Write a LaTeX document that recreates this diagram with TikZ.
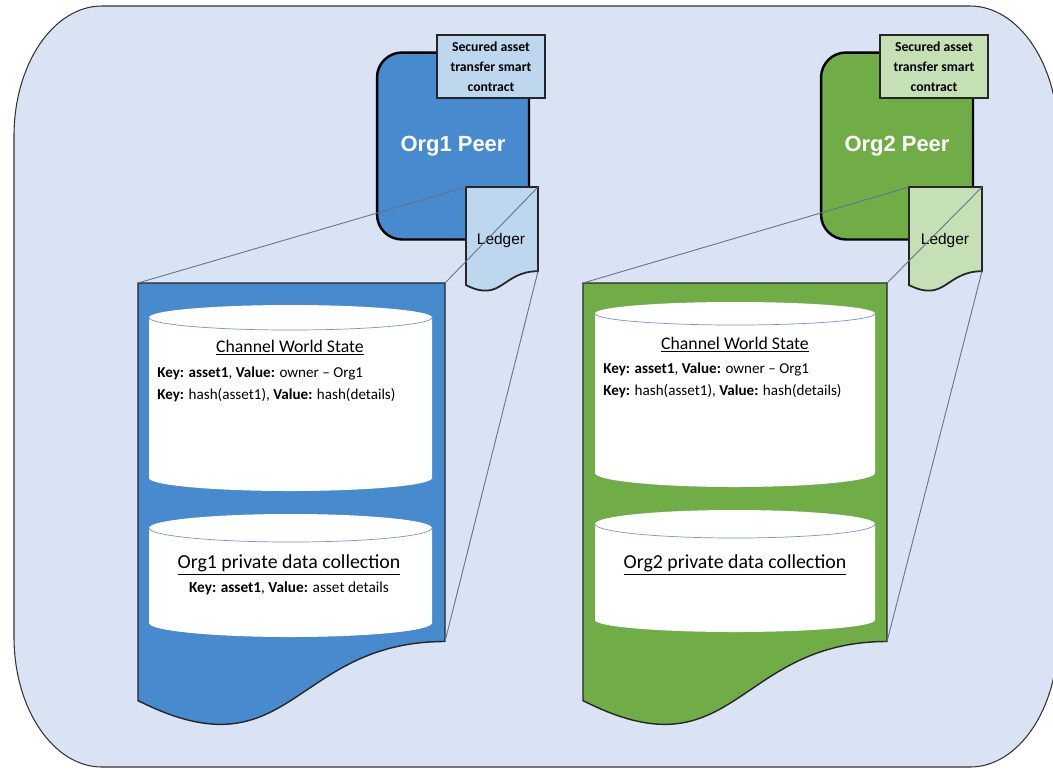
\documentclass[tikz,border=0pt]{standalone}
\usepackage{fontspec}
\setmainfont{Carlito}
\newfontfamily\arialfont{Liberation Sans}
\definecolor{bgblue}{RGB}{218,227,243}
\definecolor{orgblue}{RGB}{72,138,206}
\definecolor{paleblue}{RGB}{189,215,238}
\definecolor{orggreen}{RGB}{112,173,71}
\definecolor{palegreen}{RGB}{197,224,180}
\definecolor{zoomgray}{RGB}{100,112,140}
\definecolor{rimblue}{RGB}{120,150,200}

\begin{document}
\begin{tikzpicture}[x=0.02cm,y=0.02cm]
    %
    % `peer' is the rounded box of each organisation.
    % `contract' is the smart contract label on top of it.
    % `doc' is used for the ledger and its zoomed copy.
    % `drum' and `rim' give the database cylinders.
    \tikzstyle{peer} = [draw=black,line width=1.4pt,rounded corners=0.5cm,minimum width=3.04cm,minimum height=3.74cm,text=white,font=\arialfont\bfseries\fontsize{12.5}{15}\selectfont]
    \tikzstyle{contract} = [draw=black!85,line width=0.8pt,minimum width=2.16cm,minimum height=1.26cm,inner sep=0pt,align=center,font=\bfseries\fontsize{7.8}{11.3}\selectfont]
    \tikzstyle{doc} = [draw=black!85,line width=0.8pt]
    \tikzstyle{ledgertext} = [font=\arialfont\fontsize{8.8}{10}\selectfont]
    \tikzstyle{drum} = [fill=white]
    \tikzstyle{rim} = [draw=rimblue,line width=0.4pt]
    \tikzstyle{cwstitle} = [anchor=base,inner sep=0pt,font=\fontsize{10.1}{12}\selectfont]
    \tikzstyle{pdctitle} = [anchor=base,inner sep=0pt,font=\fontsize{11.3}{13}\selectfont]
    \tikzstyle{kv} = [anchor=base west,inner sep=0pt,font=\fontsize{8.6}{10}\selectfont]
    \tikzstyle{zoom} = [draw=zoomgray,line width=0.5pt]
    %
    \useasboundingbox (0,0) rectangle (1053,-768);
    %
    % Background
    \draw[fill=bgblue,draw=black!80,line width=0.6pt] (102,-6) -- (970,-6)
        arc[start angle=90,end angle=0,x radius=88,y radius=130] -- (1058,-637)
        arc[start angle=0,end angle=-90,x radius=88,y radius=130] -- (102,-767)
        arc[start angle=270,end angle=180,x radius=88,y radius=130] -- (14,-136)
        arc[start angle=180,end angle=90,x radius=88,y radius=130] -- cycle;
    %
    % Org1 ledger, zoomed
    \draw[doc,fill=orgblue] (138,-283) coordinate (d1nw) -- (445,-283) coordinate (d1ne)
        -- (445,-641.5) coordinate (d1se) .. controls (291.5,-641.5) and (291.5,-778) .. (138,-700.6) -- cycle;
    \fill[drum] (149,-317.5) -- (149,-478) arc[start angle=180,end angle=360,x radius=141.5,y radius=13]
        -- (432,-317.5) arc[start angle=0,end angle=180,x radius=141.5,y radius=12.5] -- cycle;
    \draw[rim] (149,-317.5) arc[start angle=180,end angle=360,x radius=141.5,y radius=12.5];
    \fill[drum] (149,-528) -- (149,-623) arc[start angle=180,end angle=360,x radius=141.5,y radius=14]
        -- (432,-528) arc[start angle=0,end angle=180,x radius=141.5,y radius=14] -- cycle;
    \draw[rim] (149,-528) arc[start angle=180,end angle=360,x radius=141.5,y radius=14];
    \node[cwstitle] (cws1) at (290,-352) {\underline{Channel World State}};
    \node[kv] (kv1a) at (157,-377) {\textbf{Key: asset1}, \textbf{Value:} owner – Org1};
    \node[kv] (kv1b) at (157,-399) {\textbf{Key:} hash(asset1), \textbf{Value:} hash(details)};
    \node[pdctitle] (pdc1) at (289,-568) {\underline{Org1 private data collection}};
    \node[cwstitle,font=\fontsize{8.7}{10}\selectfont] (kv1c) at (289,-592) {\textbf{Key: asset1}, \textbf{Value:} asset details};
    %
    % Org1 peer
    \node[peer,fill=orgblue] (peer1) at (453,-146) {Org1 Peer};
    \node[contract,fill=paleblue] (sc1) at (491,-66.5) {Secured asset\\transfer smart\\contract};
    \draw[doc,fill=paleblue,line width=1pt] (466,-187) coordinate (l1nw) -- (538,-187) coordinate (l1ne)
        -- (538,-271.2) coordinate (l1se) .. controls (502,-271.2) and (502,-303.3) .. (466,-285.1) -- cycle;
    \node[ledgertext] (ledger1) at (501,-240) {Ledger};
    \draw[zoom] (l1nw) -- (d1nw) (l1ne) -- (d1ne) (l1se) -- (d1se);
    %
    % Org2 ledger, zoomed
    \draw[doc,fill=orggreen] (583,-283) coordinate (d2nw) -- (887,-283) coordinate (d2ne)
        -- (887,-641.5) coordinate (d2se) .. controls (735,-641.5) and (735,-778) .. (583,-700.6) -- cycle;
    \fill[drum] (595,-313.5) -- (595,-473) arc[start angle=180,end angle=360,x radius=140,y radius=14]
        -- (875,-313.5) arc[start angle=0,end angle=180,x radius=140,y radius=11.5] -- cycle;
    \draw[rim] (595,-313.5) arc[start angle=180,end angle=360,x radius=140,y radius=11.5];
    \fill[drum] (595,-524) -- (595,-620) arc[start angle=180,end angle=360,x radius=140,y radius=12]
        -- (875,-524) arc[start angle=0,end angle=180,x radius=140,y radius=14] -- cycle;
    \draw[rim] (595,-524) arc[start angle=180,end angle=360,x radius=140,y radius=14];
    \node[cwstitle] (cws2) at (735,-349) {\underline{Channel World State}};
    \node[kv] (kv2a) at (603,-373) {\textbf{Key: asset1}, \textbf{Value:} owner – Org1};
    \node[kv] (kv2b) at (603,-395) {\textbf{Key:} hash(asset1), \textbf{Value:} hash(details)};
    \node[pdctitle] (pdc2) at (735,-568) {\underline{Org2 private data collection}};
    %
    % Org2 peer
    \node[peer,fill=orggreen] (peer2) at (897,-146) {Org2 Peer};
    \node[contract,fill=palegreen] (sc2) at (934,-66.5) {Secured asset\\transfer smart\\contract};
    \draw[doc,fill=palegreen,line width=1pt] (909,-187) coordinate (l2nw) -- (982,-187) coordinate (l2ne)
        -- (982,-271.2) coordinate (l2se) .. controls (945.5,-271.2) and (945.5,-303.3) .. (909,-285.1) -- cycle;
    \node[ledgertext] (ledger2) at (945,-240) {Ledger};
    \draw[zoom] (l2nw) -- (d2nw) (l2ne) -- (d2ne) (l2se) -- (d2se);
    %
\end{tikzpicture}
\end{document}
